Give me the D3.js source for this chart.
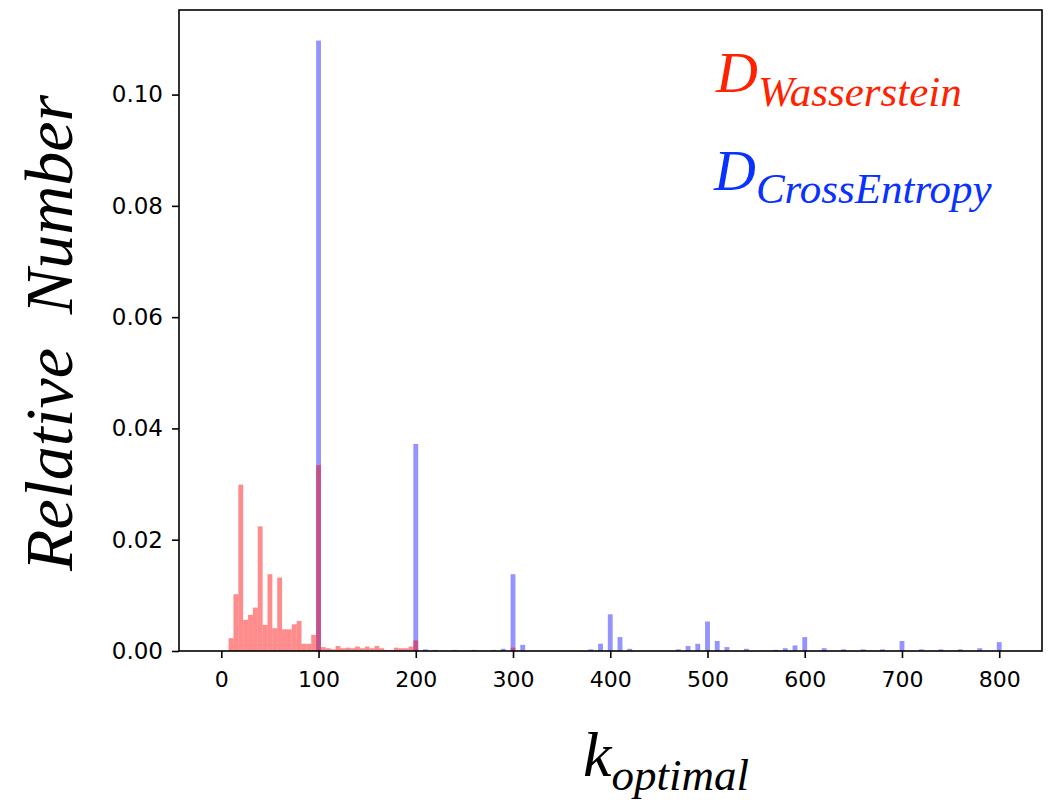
<!DOCTYPE html>
<html>
<head>
<meta charset="utf-8">
<script src="https://cdn.jsdelivr.net/npm/d3@7/dist/d3.min.js"></script>
<style>
  html, body { margin: 0; padding: 0; background: #ffffff; }
  svg { display: block; }
</style>
</head>
<body>
<script>
// ---- data ----
const binWidth = 5;
const redK = [10,15,20,25,30,35,40,45,50,55,60,65,70,75,80,85,90,95,100,105,110,115,120,125,130,135,140,145,150,155,160,165,170,175,180,185,190,195,200,220,240,260,280,300];
const redV = [0.0023,0.0102,0.0299,0.0056,0.0065,0.0078,0.0224,0.0047,0.0138,0.0041,0.0132,0.0039,0.0039,0.0048,0.0054,0.0013,0.0013,0.0029,0.0334,0.0007,0.0005,0.0003,0.0009,0.0005,0.0006,0.0005,0.0008,0.0005,0.0008,0.0005,0.0009,0.0005,0.0002,0.0002,0.0006,0.0005,0.0005,0.0008,0.0019,0.0002,0.0002,0.0002,0.0002,0.0006];
const blueK = [100,200,210,290,300,310,380,390,400,410,420,470,480,490,500,510,520,540,570,580,590,600,620,640,660,680,700,720,740,760,780,800];
const blueV = [0.1097,0.0372,0.0003,0.0004,0.0138,0.0011,0.0003,0.0013,0.0066,0.0025,0.0004,0.0003,0.0009,0.0013,0.0053,0.0018,0.0007,0.0004,0.0002,0.0005,0.0010,0.0025,0.0005,0.0003,0.0003,0.0003,0.0018,0.0003,0.0003,0.0003,0.0005,0.0016];
const xTicks = [0,100,200,300,400,500,600,700,800];
const yTicks = [0.00,0.02,0.04,0.06,0.08,0.10];

const W = 1058, H = 804;
const margin = {left: 179, top: 10, right: 1042, bottom: 651};

const svg = d3.select("body").append("svg").attr("width", W).attr("height", H);

const x = d3.scaleLinear().domain([-43.5, 844]).range([margin.left, margin.right]);
const y = d3.scaleLinear().domain([0, 0.1152]).range([margin.bottom, margin.top]);

const blueData = blueK.map((k,i)=>({k, v: blueV[i]}));
const redData = redK.map((k,i)=>({k, v: redV[i]}));

// blue series first, red on top
svg.append("g").selectAll("rect").data(blueData).join("rect")
  .attr("x", d => x(d.k - binWidth/2))
  .attr("width", d => x(d.k + binWidth/2) - x(d.k - binWidth/2))
  .attr("y", d => y(d.v))
  .attr("height", d => y(0) - y(d.v))
  .attr("fill", "#0000ff").attr("fill-opacity", 0.42);

svg.append("g").selectAll("rect").data(redData).join("rect")
  .attr("x", d => x(d.k - binWidth/2))
  .attr("width", d => x(d.k + binWidth/2) - x(d.k - binWidth/2))
  .attr("y", d => y(d.v))
  .attr("height", d => y(0) - y(d.v))
  .attr("fill", "#ff0000").attr("fill-opacity", 0.45);

// frame
svg.append("rect")
  .attr("x", margin.left).attr("y", margin.top)
  .attr("width", margin.right - margin.left).attr("height", margin.bottom - margin.top)
  .attr("fill", "none").attr("stroke", "#000").attr("stroke-width", 1.6);

// axes
const xAxis = svg.append("g").attr("transform", `translate(0,${margin.bottom})`)
  .call(d3.axisBottom(x).tickValues(xTicks).tickFormat(d3.format("d")).tickSize(7).tickPadding(13));
const yAxis = svg.append("g").attr("transform", `translate(${margin.left},0)`)
  .call(d3.axisLeft(y).tickValues(yTicks).tickFormat(d3.format(".2f")).tickSize(7).tickPadding(9));
[xAxis, yAxis].forEach(g => {
  g.select(".domain").remove();
  g.selectAll(".tick line").attr("stroke", "#000").attr("stroke-width", 1.6);
  g.selectAll(".tick text").attr("fill", "#000")
    .style("font-family", "'DejaVu Sans', sans-serif").style("font-size", "22px");
});
yAxis.selectAll(".tick text").style("font-size", "23px");

// axis titles
svg.append("text")
  .attr("transform", "translate(72,333) rotate(-90)")
  .attr("text-anchor", "middle")
  .style("font-family", "'Liberation Serif', serif").style("font-style", "italic")
  .style("font-size", "68px").attr("fill", "#000")
  .attr("xml:space", "preserve")
  .text("Relative  Number");

const xl = svg.append("text").attr("x", 583).attr("y", 776)
  .style("font-family", "'Liberation Serif', serif").style("font-style", "italic").attr("fill", "#000");
xl.append("tspan").style("font-size", "64px").text("k");
xl.append("tspan").attr("dy", 14).style("font-size", "45px").text("optimal");

// legend labels
const l1 = svg.append("text").attr("x", 716).attr("y", 92)
  .style("font-family", "'Liberation Serif', serif").style("font-style", "italic").attr("fill", "#ff2200");
l1.append("tspan").style("font-size", "58px").text("D");
l1.append("tspan").attr("dy", 14).style("font-size", "43px").text("Wasserstein");

const l2 = svg.append("text").attr("x", 714).attr("y", 190)
  .style("font-family", "'Liberation Serif', serif").style("font-style", "italic").attr("fill", "#0a32ff");
l2.append("tspan").style("font-size", "58px").text("D");
l2.append("tspan").attr("dy", 13).style("font-size", "43px").text("CrossEntropy");
</script>
</body>
</html>
